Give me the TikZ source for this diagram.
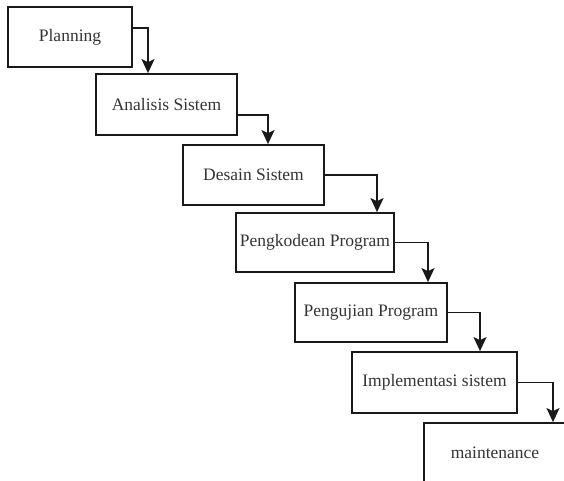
\documentclass[tikz,border=0pt]{standalone}
\usepackage{fontspec}
\setmainfont{Liberation Serif}
\usetikzlibrary{arrows.meta}
\begin{document}
\begin{tikzpicture}[x=1pt,y=-1pt,
  stagebox/.style={draw=black!90,line width=1.8pt,rectangle,inner sep=0pt,
    text=black!80,font=\fontsize{17.5}{20}\selectfont},
  arr/.style={draw=black!90,line width=1.6pt,-{Stealth[length=14pt,width=13pt,inset=3pt]}}]
\useasboundingbox (0,0) rectangle (564,481);
\clip (0,0) rectangle (564,481);
\node[stagebox,minimum width=124pt,minimum height=60pt] (p1) at (70,37) {Planning};
\node[stagebox,minimum width=141pt,minimum height=61pt] (p2) at (166.5,104.5) {Analisis Sistem};
\node[stagebox,minimum width=141pt,minimum height=60pt] (p3) at (253.5,175) {Desain Sistem};
\node[stagebox,minimum width=158pt,minimum height=59pt] (p4) at (315,242.5) {Pengkodean Program};
\node[stagebox,minimum width=152pt,minimum height=59pt] (p5) at (371,312.5) {Pengujian Program};
\node[stagebox,minimum width=165pt,minimum height=61pt] (p6) at (434.5,382.5) {Implementasi sistem};
\node[stagebox,minimum width=142pt,minimum height=60pt] (p7) at (495,453) {maintenance};
\draw[arr] ([yshift=9pt]p1.east) -| ([xshift=-18.5pt]p2.north);
\draw[arr] ([yshift=-10.5pt]p2.east) -| ([xshift=14.5pt]p3.north);
\draw[arr] (p3.east) -| ([xshift=62pt]p4.north);
\draw[arr] (p4.east) -| ([xshift=57pt]p5.north);
\draw[arr] (p5.east) -| ([xshift=45.5pt]p6.north);
\draw[arr] (p6.east) -| ([xshift=58pt]p7.north);
\end{tikzpicture}
\end{document}
